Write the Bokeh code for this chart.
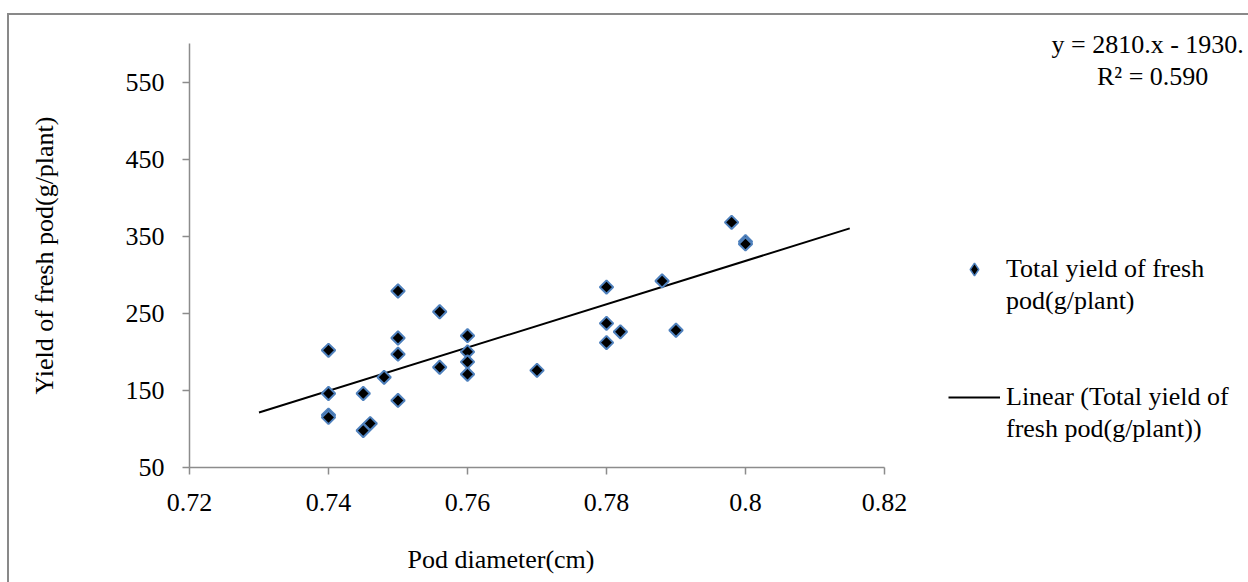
from bokeh.plotting import figure
from bokeh.models import Range1d, FixedTicker, Legend, LegendItem, Title
from bokeh.embed import file_html
from bokeh.resources import INLINE

# ---- data ----
pod_diameter = [0.74, 0.74, 0.74, 0.74, 0.745, 0.745, 0.746, 0.748,
                0.75, 0.75, 0.75, 0.75, 0.756, 0.756, 0.76, 0.76,
                0.76, 0.76, 0.77, 0.78, 0.78, 0.78, 0.782, 0.788,
                0.79, 0.798, 0.80, 0.80]
fresh_yield = [202, 146, 118, 115, 146, 98, 107, 167,
               279, 218, 197, 137, 252, 180, 221, 200,
               187, 171, 176, 284, 237, 212, 226, 292,
               228, 368, 343, 340]

x_ticks = [0.72, 0.74, 0.76, 0.78, 0.80, 0.82]
x_tick_labels = ["0.72", "0.74", "0.76", "0.78", "0.8", "0.82"]
y_ticks = [50, 150, 250, 350, 450, 550]

trend_x = [0.73, 0.815]
trend_slope = 2810.0
trend_intercept = -1930.0
trend_y = [trend_slope * v + trend_intercept for v in trend_x]

equation_text = "y = 2810.x - 1930."
r2_text = "R\u00b2 = 0.590"
x_title = "Pod diameter(cm)"
y_title = "Yield of fresh pod(g/plant)"
series_lines = ["Total yield of fresh", "pod(g/plant)"]
trend_lines = ["Linear (Total yield of", "fresh pod(g/plant))"]

FONT = "Liberation Serif"
FS = "26px"
AXIS_GRAY = "#8c8c8c"
BORDER_GRAY = "#898989"
NB = "\u00a0"

p = figure(frame_width=695, frame_height=424,
           min_border_left=189, min_border_right=362,
           min_border_top=43, min_border_bottom=115,
           x_range=Range1d(0.72, 0.82), y_range=Range1d(50, 600),
           output_backend="svg", toolbar_location=None)

p.xgrid.visible = False
p.ygrid.visible = False
p.outline_line_color = None
p.background_fill_color = "white"
p.border_fill_alpha = 0
p.styles = {
    "background": (
        f"linear-gradient({BORDER_GRAY},{BORDER_GRAY}) 7px 13px / calc(100% - 7px) 2px no-repeat, "
        f"linear-gradient({BORDER_GRAY},{BORDER_GRAY}) 7px 13px / 2px calc(100% - 13px) no-repeat, "
        "white"
    )
}

for ax in (p.xaxis[0], p.yaxis[0]):
    ax.axis_line_color = AXIS_GRAY
    ax.axis_line_width = 1.5
    ax.major_tick_line_color = AXIS_GRAY
    ax.major_tick_line_width = 1.5
    ax.major_tick_out = 7
    ax.major_tick_in = 0
    ax.minor_tick_line_color = None
    ax.major_label_text_font = FONT
    ax.major_label_text_font_size = FS
    ax.major_label_text_color = "black"

p.xaxis[0].ticker = FixedTicker(ticks=x_ticks)
p.xaxis[0].major_label_overrides = {t: l for t, l in zip(x_ticks, x_tick_labels)}
p.xaxis[0].major_label_standoff = 19

p.yaxis[0].ticker = FixedTicker(ticks=y_ticks)
p.yaxis[0].major_label_standoff = 18
p.yaxis[0].axis_label = y_title
p.yaxis[0].axis_label_text_font = FONT
p.yaxis[0].axis_label_text_font_size = FS
p.yaxis[0].axis_label_text_font_style = "normal"
p.yaxis[0].axis_label_text_color = "black"
p.yaxis[0].axis_label_standoff = 64

r_trend = p.line(trend_x, trend_y, line_color="black", line_width=2)
r_pts = p.scatter(pod_diameter, fresh_yield, marker="square", angle=0.785398,
                  size=9.5, fill_color="black", line_color="#4F81BD", line_width=2)

# legend-only renderers (hidden in the plot, shown in the legend)
r_leg_marker = p.scatter(pod_diameter, fresh_yield, marker="diamond",
                         fill_color="black", line_color="#4F81BD",
                         line_width=1.5, visible=False)
r_blank = p.scatter(pod_diameter, fresh_yield, marker="circle",
                    fill_alpha=0, line_alpha=0, visible=False)


def blank_item():
    return LegendItem(label=NB, renderers=[r_blank])


rows = [
    LegendItem(label=NB * 7 + equation_text, renderers=[r_blank]),
    LegendItem(label=NB * 14 + r2_text, renderers=[r_blank]),
    blank_item(), blank_item(), blank_item(), blank_item(), blank_item(),
    LegendItem(label=series_lines[0], renderers=[r_leg_marker]),
    LegendItem(label=series_lines[1], renderers=[r_blank]),
    blank_item(), blank_item(),
    LegendItem(label=trend_lines[0], renderers=[r_trend]),
    LegendItem(label=trend_lines[1], renderers=[r_blank]),
]

legend = Legend(items=rows, location=(64, 22), glyph_width=52,
                glyph_height=32, label_height=32, label_standoff=6,
                spacing=0, padding=0, margin=0,
                border_line_color=None, background_fill_alpha=0,
                inactive_fill_alpha=0,
                label_text_font=FONT, label_text_font_size=FS,
                label_text_color="black")
p.add_layout(legend, "right")

p.add_layout(Title(text=x_title, align="left", offset=218, standoff=58,
                   text_font=FONT, text_font_size=FS, text_font_style="normal",
                   text_color="black"), "below")

open("out.html", "w").write(file_html(p, INLINE))
